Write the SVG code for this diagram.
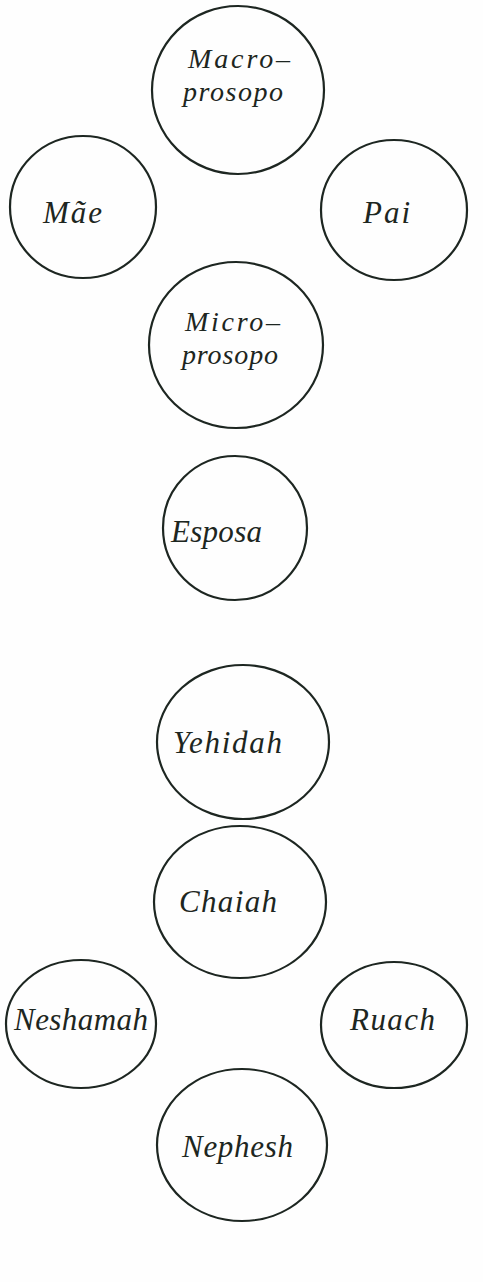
<svg xmlns="http://www.w3.org/2000/svg" width="483" height="1282" viewBox="0 0 483 1282">
<style>
.c{fill:none;stroke:#1d2621;stroke-width:2.2}
.t{font-family:"Liberation Serif","DejaVu Serif",serif;font-style:italic;font-size:31px;fill:#1d2621}
.t2{font-size:28px}
</style>
<rect width="483" height="1282" fill="#fefefe"/>
<g id="connectors"/>
<g id="macroprosopo"><ellipse class="c" cx="238" cy="90" rx="86" ry="84"/><text class="t t2" x="188" y="68" textLength="102" lengthAdjust="spacing">Macro–</text><text class="t t2" x="183" y="101" textLength="100" lengthAdjust="spacing">prosopo</text></g>
<g id="mae"><ellipse class="c" cx="83" cy="207" rx="73" ry="71"/><text class="t" x="43" y="223" textLength="59" lengthAdjust="spacing">Mãe</text></g>
<g id="pai"><ellipse class="c" cx="394" cy="210" rx="73" ry="70"/><text class="t" x="363" y="223" textLength="47" lengthAdjust="spacing">Pai</text></g>
<g id="microprosopo"><ellipse class="c" cx="236" cy="345" rx="87" ry="83"/><text class="t t2" x="185" y="331" textLength="95" lengthAdjust="spacing">Micro–</text><text class="t t2" x="182" y="364" textLength="96" lengthAdjust="spacing">prosopo</text></g>
<g id="esposa"><ellipse class="c" cx="235" cy="528" rx="72" ry="72"/><text class="t" x="171" y="542" textLength="91" lengthAdjust="spacing">Esposa</text></g>
<g id="yehidah"><ellipse class="c" cx="243" cy="742" rx="86" ry="77"/><text class="t" x="173" y="753" textLength="109" lengthAdjust="spacing">Yehidah</text></g>
<g id="chaiah"><ellipse class="c" cx="240" cy="902" rx="86" ry="76"/><text class="t" x="179" y="912" textLength="98" lengthAdjust="spacing">Chaiah</text></g>
<g id="neshamah"><ellipse class="c" cx="81" cy="1024" rx="75" ry="64"/><text class="t" x="14" y="1030" textLength="134" lengthAdjust="spacing">Neshamah</text></g>
<g id="ruach"><ellipse class="c" cx="394" cy="1025" rx="73" ry="63"/><text class="t" x="350" y="1030" textLength="85" lengthAdjust="spacing">Ruach</text></g>
<g id="nephesh"><ellipse class="c" cx="242" cy="1145" rx="85" ry="76"/><text class="t" x="182" y="1157" textLength="111" lengthAdjust="spacing">Nephesh</text></g>
</svg>
